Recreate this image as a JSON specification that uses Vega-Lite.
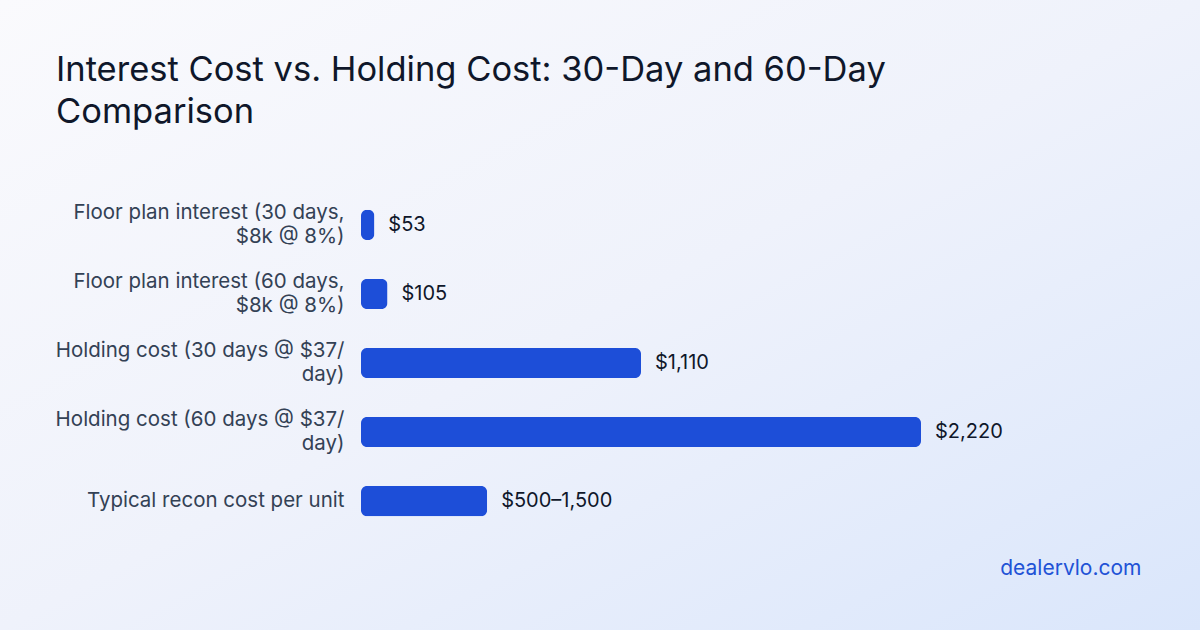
{
  "$schema": "https://vega.github.io/schema/vega-lite/v6.json",
  "description": "Interest cost vs holding cost, 30 and 60 day comparison.",
  "autosize": {"type": "none"},
  "padding": 0,
  "width": 1200,
  "height": 630,
  "background": "#eef2fb",
  "view": {
    "stroke": null,
    "fill": {
      "gradient": "linear",
      "x1": 0, "y1": 0, "x2": 1, "y2": 1,
      "stops": [
        {"offset": 0, "color": "#fafafd"},
        {"offset": 0.5, "color": "#eff2fb"},
        {"offset": 1, "color": "#dae6fb"}
      ]
    }
  },
  "title": {
    "text": ["Interest Cost vs. Holding Cost: 30-Day and 60-Day", "Comparison"],
    "anchor": "start",
    "frame": "group",
    "orient": "top",
    "offset": -130,
    "dx": 56,
    "font": "Inter",
    "fontSize": 34.5,
    "fontWeight": 400,
    "lineHeight": 42,
    "color": "#0f172a"
  },
  "data": {
    "values": [
      {"item": "Floor plan interest (30 days,\n$8k @ 8%)", "cost": 53, "label": "$53"},
      {"item": "Floor plan interest (60 days,\n$8k @ 8%)", "cost": 105, "label": "$105"},
      {"item": "Holding cost (30 days @ $37/\nday)", "cost": 1110, "label": "$1,110"},
      {"item": "Holding cost (60 days @ $37/\nday)", "cost": 2220, "label": "$2,220"},
      {"item": "Typical recon cost per unit", "cost": 500, "label": "$500–1,500"}
    ]
  },
  "encoding": {
    "y": {
      "field": "item",
      "type": "nominal",
      "sort": null,
      "scale": {"range": [190.5, 535.5], "paddingInner": 0.565, "paddingOuter": 0.28},
      "axis": {
        "title": null,
        "orient": "left",
        "offset": -361,
        "domain": false,
        "ticks": false,
        "grid": false,
        "labelPadding": 17,
        "labelLimit": 400,
        "labelFont": "Inter",
        "labelFontSize": 20.5,
        "labelLineHeight": 24,
        "labelColor": "#334155",
        "labelOffset": {"condition": {"test": "indexof(datum.value, '\\n') >= 0", "value": -12}, "value": 0},
        "labelExpr": "split(datum.label, '\\n')"
      }
    },
    "x": {
      "field": "cost",
      "type": "quantitative",
      "scale": {"domain": [0, 2220], "range": [361, 921], "nice": false, "zero": true},
      "axis": {
        "title": "dealervlo.com",
        "domain": false,
        "ticks": false,
        "labels": false,
        "grid": false,
        "titleX": 1141,
        "titleY": -56,
        "titleAlign": "right",
        "titleAnchor": null,
        "titleBaseline": "alphabetic",
        "titleFont": "Inter",
        "titleFontSize": 21,
        "titleFontWeight": 400,
        "titleColor": "#2152d6"
      }
    }
  },
  "layer": [
    {
      "mark": {"type": "bar", "color": "#1d4ed8", "cornerRadius": 6}
    },
    {
      "mark": {
        "type": "text",
        "align": "left",
        "baseline": "middle",
        "dx": 14,
        "font": "Inter",
        "fontSize": 20,
        "color": "#0f172a"
      },
      "encoding": {"text": {"field": "label"}}
    }
  ]
}
